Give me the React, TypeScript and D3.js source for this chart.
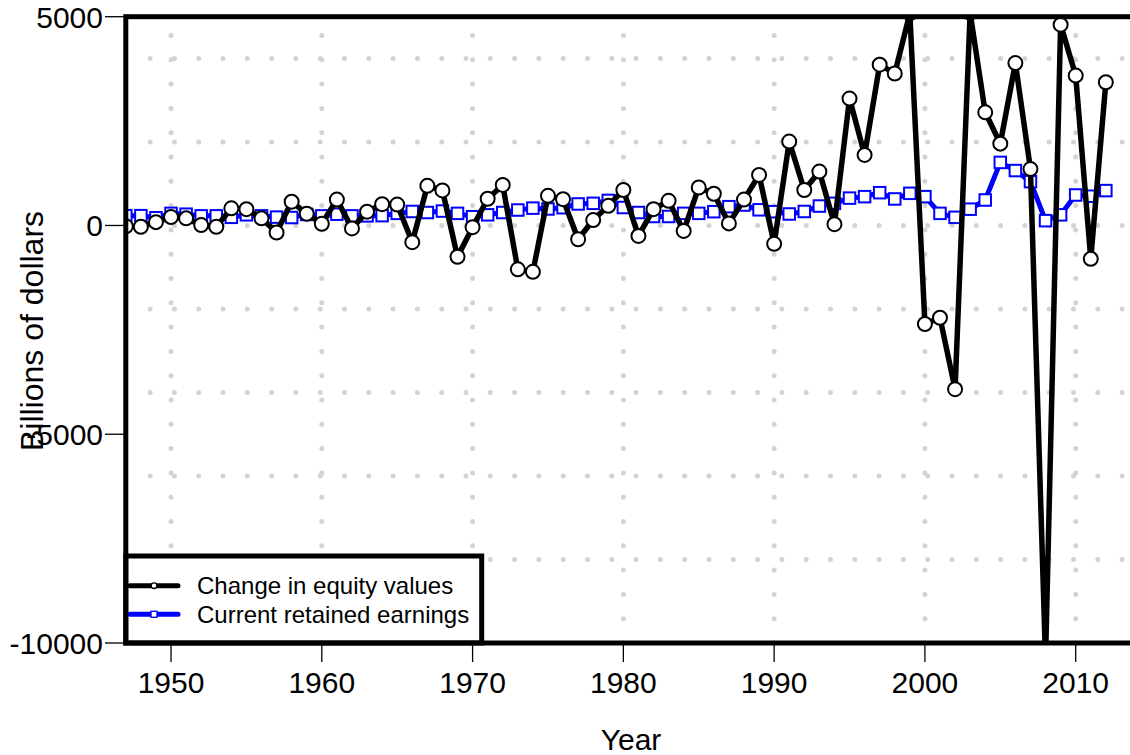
import React from 'react';
import * as d3 from 'd3';

// Annual values, billions of dollars
const years = [
  1947, 1948, 1949, 1950, 1951, 1952, 1953, 1954, 1955, 1956, 1957, 1958, 1959,
  1960, 1961, 1962, 1963, 1964, 1965, 1966, 1967, 1968, 1969, 1970, 1971, 1972,
  1973, 1974, 1975, 1976, 1977, 1978, 1979, 1980, 1981, 1982, 1983, 1984, 1985,
  1986, 1987, 1988, 1989, 1990, 1991, 1992, 1993, 1994, 1995, 1996, 1997, 1998,
  1999, 2000, 2001, 2002, 2003, 2004, 2005, 2006, 2007, 2008, 2009, 2010, 2011,
  2012,
];

const equityChange = [
  -20, -30, 80, 200, 170, 10, -30, 410, 390, 170, -170, 570, 280,
  40, 620, -70, 330, 510, 500, -400, 950, 840, -750, -40, 640, 970,
  -1050, -1110, 710, 630, -330, 130, 470, 850, -250, 390, 590, -130, 910,
  760, 50, 620, 1210, -440, 2010, 850, 1290, 30, 3040, 1690, 3850, 3640,
  5080, -2360, -2210, -3920, 5090, 2710, 1960, 3890, 1350, -10400, 4810, 3590, -800,
  3430,
];

const retainedEarnings = [
  235, 235, 185, 290, 270, 230, 230, 195, 255, 230, 200, 190, 265,
  230, 270, 230, 230, 235, 290, 335, 310, 345, 290, 210, 255, 310,
  370, 415, 395, 425, 515, 530, 600, 430, 310, 215, 215, 290, 290,
  330, 450, 490, 375, 330, 275, 335, 465, 530, 655, 690, 785, 635,
  770, 690, 290, 195, 390, 610, 1510, 1315, 1050, 115, 255, 730, 700,
  835,
];

const xTicks = [1950, 1960, 1970, 1980, 1990, 2000, 2010];
const yTicks = [-10000, -5000, 0, 5000];
const gridRows = [-8000, -6000, -4000, -2000, 0, 2000, 4000];

const seriesNames = ['Change in equity values', 'Current retained earnings'];

const W = 1130;
const H = 755;
const FONT = '"Liberation Sans", Arial, Helvetica, sans-serif';

export default function App() {
  const x = d3.scaleLinear().domain([1947, 2014]).range([125.8, 1136]);
  const y = d3.scaleLinear().domain([-10000, 5000]).range([643, 16.7]);
  const [x0, x1] = x.range();
  const [yB, yT] = y.range();

  const equityPts = years.map((yr, i) => [yr, equityChange[i]] as [number, number]);
  const retainedPts = years.map((yr, i) => [yr, retainedEarnings[i]] as [number, number]);

  const line = d3
    .line<[number, number]>()
    .x((d) => x(d[0]))
    .y((d) => y(d[1]));

  const sq = 11.5;
  const gridDash = '0 24.3';

  return (
    <svg
      width={W}
      height={H}
      style={{ position: 'absolute', left: 0, top: 0, background: '#fff' }}
      fontFamily={FONT}
    >
      <defs>
        <clipPath id="plotArea">
          <rect x={x0} y={yT} width={x1 - x0} height={yB - yT} />
        </clipPath>
      </defs>

      {/* dotted grid */}
      <g stroke="#d3d3d3" strokeWidth={5} strokeLinecap="round" strokeDasharray={gridDash} clipPath="url(#plotArea)">
        {gridRows.map((v) => (
          <line key={'h' + v} x1={x0} x2={x1} y1={y(v)} y2={y(v)} />
        ))}
        {xTicks.map((t) => (
          <line key={'v' + t} x1={x(t)} x2={x(t)} y1={yB} y2={yT} />
        ))}
      </g>

      <g clipPath="url(#plotArea)">
        {/* retained earnings */}
        <path d={line(retainedPts) ?? ''} fill="none" stroke="#0000ff" strokeWidth={5} strokeLinejoin="round" />
        {retainedPts.map((d) => (
          <rect
            key={'r' + d[0]}
            x={x(d[0]) - sq / 2}
            y={y(d[1]) - sq / 2}
            width={sq}
            height={sq}
            fill="#fff"
            stroke="#0000ff"
            strokeWidth={2}
          />
        ))}

        {/* change in equity values */}
        <path d={line(equityPts) ?? ''} fill="none" stroke="#000" strokeWidth={5.5} strokeLinejoin="round" />
        {equityPts.map((d) => (
          <circle key={'e' + d[0]} cx={x(d[0])} cy={y(d[1])} r={7} fill="#fff" stroke="#000" strokeWidth={2} />
        ))}
      </g>

      {/* legend */}
      <g>
        <rect x={x0} y={556} width={481.7 - x0} height={yB - 556} fill="#fff" stroke="#000" strokeWidth={5} />
        <line x1={130} x2={178} y1={585.7} y2={585.7} stroke="#000" strokeWidth={5} strokeLinecap="round" />
        <circle cx={154} cy={585.7} r={2.8} fill="#fff" stroke="#000" strokeWidth={1.3} />
        <line x1={130} x2={178} y1={614.3} y2={614.3} stroke="#0000ff" strokeWidth={5} strokeLinecap="round" />
        <rect x={151} y={611.3} width={6} height={6} fill="#fff" stroke="#0000ff" strokeWidth={1.3} />
        <text x={197} y={585.7} dy="0.35em" fontSize={24} fill="#000">
          {seriesNames[0]}
        </text>
        <text x={197} y={614.3} dy="0.35em" fontSize={24} fill="#000">
          {seriesNames[1]}
        </text>
      </g>

      {/* frame */}
      <rect x={x0} y={yT} width={x1 - x0} height={yB - yT} fill="none" stroke="#000" strokeWidth={5} />

      {/* y axis */}
      <g>
        {yTicks.map((t) => (
          <g key={'yt' + t}>
            <line x1={105} x2={x0} y1={y(t)} y2={y(t)} stroke="#000" strokeWidth={1.3} />
            <text x={103} y={y(t)} dy="0.36em" textAnchor="end" fontSize={30} fill="#000">
              {t}
            </text>
          </g>
        ))}
      </g>

      {/* x axis */}
      <g>
        {xTicks.map((t) => (
          <g key={'xt' + t}>
            <line x1={x(t)} x2={x(t)} y1={yB} y2={662} stroke="#000" strokeWidth={1.3} />
            <text x={x(t)} y={693.3} textAnchor="middle" fontSize={30} fill="#000">
              {t}
            </text>
          </g>
        ))}
      </g>

      <text x={631} y={750} textAnchor="middle" fontSize={30} fill="#000">
        Year
      </text>
      <text
        transform={`translate(42.5, 331) rotate(-90)`}
        textAnchor="middle"
        fontSize={32}
        fill="#000"
      >
        Billions of dollars
      </text>
    </svg>
  );
}
